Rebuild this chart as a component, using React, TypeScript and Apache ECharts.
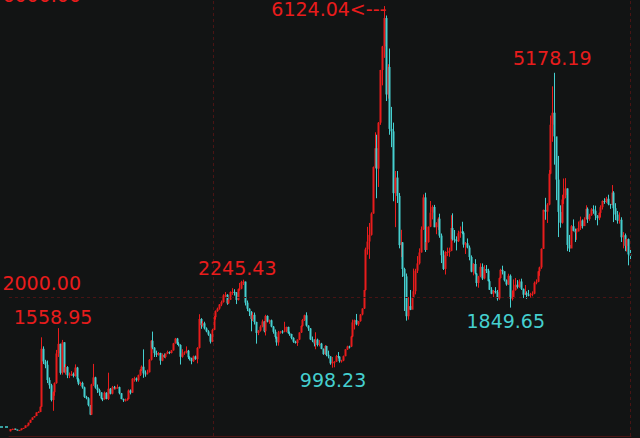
import React, { useEffect, useRef } from "react";
import * as echarts from "echarts";

// Monthly candles of the index, each [open, close, low, high]
const candles1990s: number[][] = [
  // 1990-12
  [96, 128, 96, 128],
  // 1991
  [128, 130, 126, 135], [130, 133, 129, 135], [133, 120, 119, 135], [120, 113, 112, 121],
  [113, 114, 105, 116], [114, 137, 110, 138], [137, 143, 136, 145], [143, 179, 142, 180],
  [179, 180, 175, 182], [180, 218, 180, 219], [218, 259, 217, 260], [259, 293, 258, 293],
  // 1992
  [293, 313, 292, 314], [313, 364, 312, 365], [364, 370, 360, 380], [370, 445, 368, 450],
  [445, 1266, 440, 1429], [1266, 1087, 1050, 1300], [1087, 1040, 990, 1110], [1040, 823, 780, 1100],
  [823, 750, 700, 860], [750, 540, 520, 770], [540, 650, 387, 660], [650, 780, 600, 790],
  // 1993
  [780, 1200, 770, 1250], [1200, 1336, 1150, 1559], [1336, 925, 900, 1340], [925, 1358, 900, 1392],
  [1358, 935, 930, 1360], [935, 1007, 900, 1050], [1007, 890, 850, 1020], [890, 899, 850, 930],
  [899, 911, 880, 950], [911, 880, 860, 930], [880, 1000, 870, 1045], [1000, 833, 800, 1010],
  // 1994
  [833, 770, 750, 850], [770, 783, 740, 800], [783, 720, 700, 800], [720, 585, 570, 730],
  [585, 565, 550, 600], [565, 467, 450, 580], [467, 333, 326, 470], [333, 761, 330, 770],
  [761, 861, 740, 1052], [861, 717, 700, 870], [717, 679, 640, 760], [679, 648, 600, 700],
  // 1995
  [648, 562, 550, 650], [562, 550, 524, 570], [550, 643, 545, 660], [643, 556, 550, 650],
  [556, 700, 540, 927], [700, 630, 620, 710], [630, 720, 620, 740], [720, 710, 690, 740],
  [710, 710, 690, 730], [710, 723, 700, 760], [723, 636, 620, 730], [636, 555, 550, 640],
  // 1996
  [555, 537, 513, 560], [537, 538, 520, 560], [538, 554, 530, 570], [554, 675, 550, 690],
  [675, 644, 620, 690], [644, 842, 640, 850], [842, 846, 800, 870], [846, 821, 800, 860],
  [821, 893, 800, 900], [893, 970, 880, 980], [970, 1012, 950, 1030], [1012, 917, 855, 1258],
  // 1997
  [917, 914, 870, 960], [914, 934, 900, 970], [934, 1110, 930, 1120], [1110, 1380, 1100, 1390],
  [1380, 1282, 1260, 1510], [1282, 1204, 1150, 1290], [1204, 1181, 1150, 1240], [1181, 1207, 1170, 1220],
  [1207, 1098, 1040, 1210], [1098, 1180, 1090, 1200], [1180, 1150, 1140, 1200], [1150, 1194, 1130, 1200],
  // 1998
  [1194, 1220, 1190, 1240], [1220, 1206, 1190, 1230], [1206, 1243, 1200, 1250], [1243, 1343, 1240, 1350],
  [1343, 1411, 1340, 1420], [1411, 1339, 1320, 1420], [1339, 1320, 1300, 1360], [1320, 1153, 1043, 1330],
  [1153, 1202, 1140, 1260], [1202, 1216, 1180, 1230], [1216, 1239, 1200, 1300], [1239, 1146, 1120, 1250],
  // 1999
  [1146, 1134, 1100, 1160], [1134, 1090, 1047, 1140], [1090, 1158, 1080, 1170], [1158, 1120, 1110, 1170],
  [1120, 1279, 1060, 1290], [1279, 1689, 1270, 1756], [1689, 1601, 1550, 1700], [1601, 1627, 1580, 1660],
  [1627, 1555, 1540, 1650], [1555, 1513, 1500, 1570], [1513, 1467, 1450, 1530], [1467, 1367, 1341, 1480],
];

const candles2000s: number[][] = [
  // 2000
  [1367, 1534, 1360, 1550], [1534, 1714, 1530, 1730], [1714, 1800, 1680, 1810], [1800, 1836, 1790, 1850],
  [1836, 1894, 1820, 1900], [1894, 1928, 1870, 1950], [1928, 2023, 1920, 2040], [2023, 2032, 1990, 2070],
  [2032, 1910, 1890, 2040], [1910, 1961, 1900, 1970], [1961, 2071, 1960, 2080], [2071, 2073, 2030, 2125],
  // 2001
  [2073, 2065, 2020, 2110], [2065, 1959, 1900, 2070], [1959, 2112, 1950, 2120], [2112, 2119, 2090, 2200],
  [2119, 2214, 2110, 2230], [2214, 2218, 2170, 2245.43], [2218, 1920, 1880, 2220], [1920, 1834, 1800, 1950],
  [1834, 1791, 1730, 1840], [1791, 1689, 1514, 1800], [1689, 1747, 1660, 1780], [1747, 1646, 1610, 1780],
  // 2002
  [1646, 1491, 1339, 1650], [1491, 1524, 1460, 1530], [1524, 1580, 1510, 1600], [1580, 1654, 1570, 1680],
  [1654, 1515, 1500, 1660], [1515, 1732, 1455, 1748], [1732, 1651, 1640, 1740], [1651, 1670, 1620, 1680],
  [1670, 1581, 1570, 1680], [1581, 1507, 1480, 1590], [1507, 1434, 1410, 1540], [1434, 1357, 1310, 1440],
  // 2003
  [1357, 1499, 1311, 1520], [1499, 1511, 1480, 1520], [1511, 1510, 1480, 1530], [1510, 1521, 1500, 1649],
  [1521, 1576, 1500, 1580], [1576, 1487, 1480, 1580], [1487, 1476, 1450, 1510], [1476, 1421, 1400, 1480],
  [1421, 1367, 1350, 1430], [1367, 1348, 1340, 1380], [1348, 1397, 1307, 1400], [1397, 1497, 1390, 1500],
  // 2004
  [1497, 1590, 1490, 1600], [1590, 1675, 1580, 1690], [1675, 1741, 1660, 1750], [1741, 1595, 1580, 1783],
  [1595, 1555, 1520, 1600], [1555, 1399, 1390, 1560], [1399, 1386, 1360, 1440], [1386, 1342, 1300, 1400],
  [1342, 1396, 1260, 1500], [1396, 1320, 1300, 1410], [1320, 1340, 1300, 1390], [1340, 1266, 1260, 1350],
  // 2005
  [1266, 1191, 1180, 1270], [1191, 1306, 1180, 1320], [1306, 1181, 1160, 1310], [1181, 1159, 1130, 1240],
  [1159, 1060, 1040, 1160], [1060, 1080, 998.23, 1150], [1080, 1083, 1004, 1090], [1083, 1162, 1080, 1180],
  [1162, 1155, 1130, 1220], [1155, 1092, 1070, 1160], [1092, 1099, 1070, 1110], [1099, 1161, 1090, 1170],
  // 2006
  [1161, 1258, 1160, 1260], [1258, 1299, 1250, 1310], [1299, 1298, 1270, 1310], [1298, 1440, 1290, 1450],
  [1440, 1641, 1430, 1680], [1641, 1672, 1540, 1680], [1672, 1612, 1600, 1760], [1612, 1658, 1590, 1660],
  [1658, 1752, 1650, 1760], [1752, 1837, 1740, 1840], [1837, 2099, 1830, 2100], [2099, 2675, 2090, 2700],
  // 2007
  [2675, 2786, 2600, 2995], [2786, 2881, 2541, 3050], [2881, 3183, 2870, 3200], [3183, 3841, 3180, 3850],
  [3841, 4109, 3830, 4335], [4109, 3820, 3400, 4300], [3820, 4471, 3560, 4480], [4471, 5218, 4440, 5220],
  [5218, 5552, 5000, 5560], [5552, 5954, 5390, 6124.04], [5954, 4871, 4778, 5990], [4871, 5261, 4812, 5300],
  // 2008
  [5261, 4383, 4300, 5522], [4383, 4348, 4124, 4695], [4348, 3472, 3357, 4472], [3472, 3693, 2990, 3786],
  [3693, 3433, 3333, 3786], [3433, 2736, 2690, 3475], [2736, 2775, 2566, 2953], [2775, 2397, 2284, 2779],
  [2397, 2293, 1802, 2415], [2293, 1728, 1665, 2333], [1728, 1871, 1679, 2000], [1871, 1820, 1814, 2100],
  // 2009
  [1820, 1990, 1844, 2000], [1990, 2082, 1990, 2403], [2082, 2373, 2037, 2400], [2373, 2477, 2340, 2580],
  [2477, 2632, 2460, 2690], [2632, 2959, 2630, 3000], [2959, 3412, 2950, 3454], [3412, 2667, 2639, 3478],
  [2667, 2779, 2712, 3000], [2779, 2996, 2770, 3000], [2996, 3195, 2990, 3361], [3195, 3277, 3100, 3300],
];

const candles2010s: number[][] = [
  // 2010
  [3277, 2989, 2990, 3306], [2989, 3051, 2890, 3060], [3051, 3110, 2950, 3130], [3110, 2870, 2840, 3181],
  [2870, 2592, 2481, 2900], [2592, 2398, 2383, 2660], [2398, 2638, 2319, 2650], [2638, 2638, 2580, 2700],
  [2638, 2656, 2570, 2700], [2656, 2979, 2650, 3160], [2979, 2820, 2800, 3186], [2820, 2808, 2770, 2950],
  // 2011
  [2808, 2790, 2661, 2860], [2790, 2905, 2780, 2940], [2905, 2928, 2840, 3000], [2928, 2911, 2890, 3067],
  [2911, 2743, 2700, 2930], [2743, 2762, 2610, 2780], [2762, 2701, 2690, 2830], [2701, 2567, 2520, 2730],
  [2567, 2359, 2350, 2590], [2359, 2468, 2307, 2480], [2468, 2333, 2320, 2536], [2333, 2199, 2149, 2340],
  // 2012
  [2199, 2292, 2132, 2300], [2292, 2428, 2280, 2478], [2428, 2263, 2242, 2476], [2263, 2397, 2250, 2450],
  [2397, 2373, 2340, 2453], [2373, 2225, 2220, 2400], [2225, 2103, 2100, 2250], [2103, 2047, 2040, 2140],
  [2047, 2086, 1999, 2100], [2086, 2069, 2050, 2140], [2069, 1980, 1949, 2100], [1980, 2269, 1960, 2276],
  // 2013
  [2269, 2385, 2260, 2400], [2385, 2366, 2320, 2444], [2366, 2237, 2220, 2360], [2237, 2178, 2160, 2250],
  [2178, 2301, 2170, 2330], [2301, 1979, 1849.65, 2320], [1979, 1994, 1950, 2090], [1994, 2098, 1980, 2250],
  [2098, 2174, 2090, 2270], [2174, 2141, 2120, 2240], [2141, 2220, 2130, 2250], [2220, 2116, 2100, 2260],
  // 2014
  [2116, 2033, 1985, 2120], [2033, 2056, 2030, 2170], [2056, 2033, 1974, 2080], [2033, 2026, 2010, 2100],
  [2026, 2039, 1991, 2060], [2039, 2048, 2010, 2080], [2048, 2201, 2040, 2220], [2201, 2217, 2180, 2250],
  [2217, 2364, 2210, 2370], [2364, 2420, 2300, 2430], [2420, 2683, 2400, 2690], [2683, 3235, 2680, 3239],
  // 2015
  [3235, 3210, 3095, 3406], [3210, 3310, 3050, 3330], [3310, 3748, 3300, 3800], [3748, 4442, 3740, 4572],
  [4442, 4612, 4200, 4986], [4612, 4277, 3876, 5178.19], [4277, 3664, 3373, 4200], [3664, 3206, 2850, 4000],
  [3206, 3053, 2983, 3300], [3053, 3383, 3040, 3450], [3383, 3445, 3320, 3680], [3445, 3539, 3400, 3685],
  // 2016
  [3539, 2738, 2650, 3540], [2738, 2688, 2638, 2880], [2688, 3003, 2700, 3020], [3003, 2938, 2930, 3100],
  [2938, 2917, 2780, 2970], [2917, 2930, 2810, 2970], [2930, 2979, 2930, 3070], [2979, 3085, 2950, 3140],
  [3085, 3005, 2970, 3100], [3005, 3100, 3010, 3130], [3100, 3250, 3100, 3300], [3250, 3104, 3050, 3270],
  // 2017
  [3104, 3159, 3080, 3180], [3159, 3242, 3150, 3260], [3242, 3223, 3180, 3300], [3223, 3155, 3090, 3295],
  [3155, 3117, 3016, 3160], [3117, 3192, 3090, 3200], [3192, 3273, 3130, 3300], [3273, 3361, 3240, 3370],
  [3361, 3349, 3320, 3400], [3349, 3393, 3330, 3420], [3393, 3317, 3300, 3450], [3317, 3307, 3250, 3320],
  // 2018 (Jan - Nov)
  [3307, 3480, 3300, 3587], [3480, 3259, 3062, 3500], [3259, 3169, 3090, 3330], [3169, 3082, 3040, 3220],
  [3082, 3095, 3040, 3200], [3095, 2847, 2780, 3130], [2847, 2876, 2690, 2920], [2876, 2725, 2650, 2900],
  [2725, 2821, 2644, 2830], [2821, 2603, 2449, 2830], [2603, 2588, 2530, 2700],
];

// Month categories, 1990-12 .. 2018-11
const months: string[] = [];
for (let y = 1990; y <= 2018; y++) {
  for (let m = 1; m <= 12; m++) {
    if (y === 1990 && m < 12) continue;
    if (y === 2018 && m > 11) continue;
    months.push(`${y}-${String(m).padStart(2, "0")}`);
  }
}

// Annotated extremes
const highMarks = [
  { month: "1993-02", value: 1558.95, text: "1558.95" },
  { month: "2001-06", value: 2245.43, text: "2245.43" },
  { month: "2007-10", value: 6124.04, text: "6124.04<---" },
  { month: "2015-06", value: 5178.19, text: "5178.19" },
];
const lowMarks = [
  { month: "2005-06", value: 998.23, text: "998.23" },
  { month: "2013-06", value: 1849.65, text: "1849.65" },
];
const levelLines = [2000];
const levelLabels = [
  { value: 2000, text: "2000.00" },
  { value: 6000, text: "6000.00" },
];
const markerMonths = ["2000-02", "2018-11"];

const RED = "#e81c1c";
const CYAN = "#45cfcf";
const GRIDRED = "#4a1414";
const BG = "#121414";
const FONT = "'DejaVu Sans', Verdana, sans-serif";
const FS = 19;

export default function App() {
  const ref = useRef<HTMLDivElement>(null);

  useEffect(() => {
    if (!ref.current) return;
    const chart = echarts.init(ref.current, undefined, { renderer: "svg" });
    const ohlc = [...candles1990s, ...candles2000s, ...candles2010s];
    const data = ohlc.map((c, i) => [i, c[0], c[1], c[2], c[3]]);

    const highOffsets: Record<string, number[]> = {
      "1558.95": [-5, 4],
      "2245.43": [-6, 3],
      "5178.19": [-2, 0],
    };
    const lowOffsets: Record<string, number[]> = {
      "998.23": [1, -3],
      "1849.65": [-4, -2],
    };
    const levelOffsets: Record<string, number[]> = {
      "2000.00": [-13, -14],
      "6000.00": [-13, -20],
    };

    const markData: any[] = [];
    highMarks.forEach((h) => {
      const isPeak = h.text.indexOf("<") >= 0;
      markData.push({
        coord: [h.month, h.value],
        value: h.text,
        label: {
          show: true,
          formatter: h.text,
          position: isPeak ? "left" : "top",
          offset: isPeak ? [8, 3] : highOffsets[h.text],
          color: RED,
          fontSize: FS,
          fontFamily: FONT,
        },
      });
    });
    lowMarks.forEach((l) => {
      markData.push({
        coord: [l.month, l.value],
        value: l.text,
        label: {
          show: true,
          formatter: l.text,
          position: "bottom",
          offset: lowOffsets[l.text],
          color: CYAN,
          fontSize: FS,
          fontFamily: FONT,
        },
      });
    });
    levelLabels.forEach((l) => {
      markData.push({
        coord: [months[0], l.value],
        value: l.text,
        label: {
          show: true,
          formatter: l.text,
          position: "right",
          offset: levelOffsets[l.text],
          color: RED,
          fontSize: FS,
          fontFamily: FONT,
        },
      });
    });

    const lineData: any[] = [
      ...levelLines.map((v) => ({ yAxis: v })),
      ...markerMonths.map((m) => ({ xAxis: m })),
    ];

    const renderCandle = (params: any, api: any) => {
      const idx = api.value(0);
      const o = api.value(1);
      const c = api.value(2);
      const lo = api.value(3);
      const hi = api.value(4);
      const pO = api.coord([idx, o]);
      const pC = api.coord([idx, c]);
      const pL = api.coord([idx, lo]);
      const pH = api.coord([idx, hi]);
      const up = c >= o;
      const color = up ? RED : CYAN;
      const cx = Math.round(pO[0]);
      const top = Math.min(pO[1], pC[1]);
      const bodyH = Math.max(1, Math.abs(pO[1] - pC[1]));
      return {
        type: "group",
        children: [
          {
            type: "line",
            shape: { x1: cx + 0.5, y1: pH[1], x2: cx + 0.5, y2: pL[1] },
            style: { stroke: color, lineWidth: 1 },
          },
          {
            type: "rect",
            shape: { x: cx - 0.5, y: top, width: 2, height: bodyH },
            style: { fill: color },
          },
        ],
      };
    };

    chart.setOption({
      animation: false,
      backgroundColor: BG,
      grid: { left: 9, right: 9, top: 0, bottom: 2 },
      xAxis: {
        type: "category",
        data: months,
        boundaryGap: true,
        axisLine: { show: true, lineStyle: { color: GRIDRED, width: 1 } },
        axisTick: { show: false },
        axisLabel: { show: false },
        splitLine: { show: false },
      },
      yAxis: {
        type: "value",
        min: 30,
        max: 6210,
        show: false,
        splitLine: { show: false },
      },
      graphic: [
        {
          type: "line",
          shape: { x1: 0, y1: 427, x2: 10, y2: 427 },
          style: { stroke: CYAN, lineWidth: 1.5, lineDash: [3, 2] },
        },
      ],
      series: [
        {
          type: "custom",
          data,
          encode: { x: 0, y: [1, 2, 3, 4] },
          renderItem: renderCandle,
          silent: true,
        },
        {
          type: "line",
          data: [],
          silent: true,
          markPoint: {
            symbol: "circle",
            symbolSize: 1,
            itemStyle: { color: "rgba(0,0,0,0)" },
            data: markData,
          },
          markLine: {
            silent: true,
            symbol: "none",
            label: { show: false },
            lineStyle: { color: GRIDRED, type: [3, 3], width: 1 },
            data: lineData,
          },
        },
      ],
    });

    return () => chart.dispose();
  }, []);

  return (
    <div
      ref={ref}
      style={{ position: "fixed", left: 0, top: 0, width: 640, height: 438 }}
    />
  );
}
